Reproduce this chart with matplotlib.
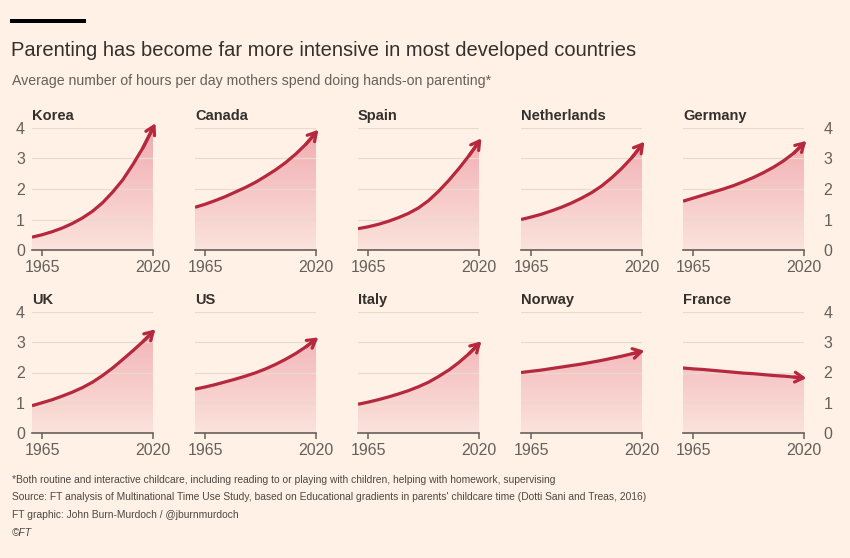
import numpy as np
import matplotlib.pyplot as plt
from matplotlib.colors import LinearSegmentedColormap
from matplotlib.patches import Rectangle

# Data (hours per day)
years = [1960, 1965, 1970, 1975, 1980, 1985, 1990, 1995, 2000, 2005, 2010, 2015, 2020]
countries = ['Korea', 'Canada', 'Spain', 'Netherlands', 'Germany',
             'UK', 'US', 'Italy', 'Norway', 'France']
korea = [0.42, 0.5, 0.6, 0.72, 0.87, 1.05, 1.27, 1.55, 1.9, 2.3, 2.8, 3.35, 4.0]
canada = [1.4, 1.5, 1.62, 1.75, 1.9, 2.05, 2.22, 2.42, 2.63, 2.87, 3.15, 3.47, 3.85]
spain = [0.7, 0.76, 0.84, 0.94, 1.06, 1.2, 1.38, 1.62, 1.93, 2.28, 2.67, 3.09, 3.55]
netherlands = [1.0, 1.08, 1.17, 1.28, 1.4, 1.54, 1.7, 1.88, 2.1, 2.37, 2.68, 3.03, 3.45]
germany = [1.6, 1.7, 1.8, 1.9, 2.0, 2.11, 2.24, 2.38, 2.54, 2.72, 2.93, 3.18, 3.5]
uk = [0.9, 1.0, 1.1, 1.22, 1.35, 1.5, 1.68, 1.9, 2.15, 2.43, 2.72, 3.02, 3.35]
us = [1.45, 1.52, 1.6, 1.69, 1.78, 1.88, 1.99, 2.12, 2.27, 2.44, 2.63, 2.85, 3.1]
italy = [0.95, 1.02, 1.1, 1.19, 1.29, 1.4, 1.53, 1.68, 1.87, 2.08, 2.33, 2.62, 2.95]
norway = [2.0, 2.04, 2.08, 2.13, 2.18, 2.23, 2.28, 2.34, 2.4, 2.47, 2.54, 2.62, 2.7]
france = [2.15, 2.12, 2.1, 2.07, 2.04, 2.01, 1.98, 1.96, 1.93, 1.9, 1.88, 1.85, 1.82]
series = [korea, canada, spain, netherlands, germany, uk, us, italy, norway, france]
xticks = [1965, 2020]
yticks = [0, 1, 2, 3, 4]

BG = '#fff1e5'
LINE = '#b5283e'
DARK = '#33302e'
GREY = '#66605c'

plt.rcParams['font.family'] = ['Liberation Sans', 'DejaVu Sans']

fig = plt.figure(figsize=(8.5, 5.58), dpi=100, facecolor=BG)
W, H = 850, 558

grad_cmap = LinearSegmentedColormap.from_list('fill', ['#fbe3dc', '#f1aab0'])
gradient = np.linspace(0, 1, 256).reshape(-1, 1)

lefts = [32, 195, 358, 521, 683]
rows = [(250, 128), (433, 312)]   # pixel y of 0 and of 4

for i, (name, vals) in enumerate(zip(countries, series)):
    r, c = divmod(i, 5)
    y0, y4 = rows[r]
    ax = fig.add_axes([lefts[c] / W, 1 - y0 / H, 121 / W, (y0 - y4) / H])
    ax.set_facecolor('none')
    ax.set_xlim(1960, 2020)
    ax.set_ylim(0, 4)

    # gradient fill under the curve
    im = ax.imshow(gradient, extent=[1960, 2020, 0, 4], origin='lower',
                   aspect='auto', cmap=grad_cmap, zorder=1)
    poly = ax.fill_between(years, vals, 0, color='none', lw=0)
    im.set_clip_path(poly.get_paths()[0], ax.transData)

    ax.plot(years[:-1] + [years[-1] - 0.8], vals[:-1] + [vals[-1] - (vals[-1] - vals[-2]) * 0.16],
            color=LINE, lw=2.3, solid_capstyle='butt', zorder=3)
    ax.annotate('', xy=(years[-1] + 1.2, vals[-1] + (vals[-1] - vals[-2]) * 0.24),
                xytext=(years[-2], vals[-2]),
                arrowprops=dict(arrowstyle='->,head_length=0.6,head_width=0.35',
                                color=LINE, lw=2.3, shrinkA=0, shrinkB=0),
                annotation_clip=False, zorder=3)

    for s in ['left', 'right', 'top']:
        ax.spines[s].set_visible(False)
    ax.spines['bottom'].set_color(GREY)
    ax.spines['bottom'].set_linewidth(1.2)
    ax.spines['bottom'].set_zorder(4)

    ax.set_yticks(yticks)
    ax.grid(axis='y', color='#e8dacd', lw=0.9)
    ax.set_axisbelow('line')
    ax.set_xticks(xticks)
    ax.tick_params(axis='x', length=4, width=1.1, color=GREY, labelcolor=GREY,
                   labelsize=11.5, pad=3)
    if c == 0:
        ax.tick_params(axis='y', length=0, labelcolor=GREY, labelsize=11.5, pad=5)
    elif c == 4:
        ax.tick_params(axis='y', length=0, labelcolor=GREY, labelsize=11.5, pad=14,
                       labelleft=False, labelright=True)
    else:
        ax.tick_params(axis='y', length=0, labelleft=False)

    ax.text(0, 1.04, name, transform=ax.transAxes, fontsize=10.5, color=DARK,
            fontweight='bold', va='bottom', ha='left')

# header
fig.add_artist(Rectangle((10 / W, 1 - 23 / H), 76 / W, 4.5 / H, transform=fig.transFigure,
                         color='#000000', lw=0))
fig.text(11 / W, 1 - 50 / H, 'Parenting has become far more intensive in most developed countries',
         fontsize=14.5, color=DARK, va='center', ha='left')
fig.text(12 / W, 1 - 81 / H, 'Average number of hours per day mothers spend doing hands-on parenting*',
         fontsize=10.2, color=GREY, va='center', ha='left')

# footer
notes = ['*Both routine and interactive childcare, including reading to or playing with children, helping with homework, supervising',
         "Source: FT analysis of Multinational Time Use Study, based on Educational gradients in parents' childcare time (Dotti Sani and Treas, 2016)",
         'FT graphic: John Burn-Murdoch / @jburnmurdoch',
         '\u00a9FT']
for k, line in enumerate(notes):
    fig.text(12 / W, 1 - (480 + k * 17.5) / H, line, fontsize=7.4, color='#4d4845',
             va='center', ha='left', style='italic' if k == 3 else 'normal')

fig.savefig('out.png', dpi=100, facecolor=BG)
